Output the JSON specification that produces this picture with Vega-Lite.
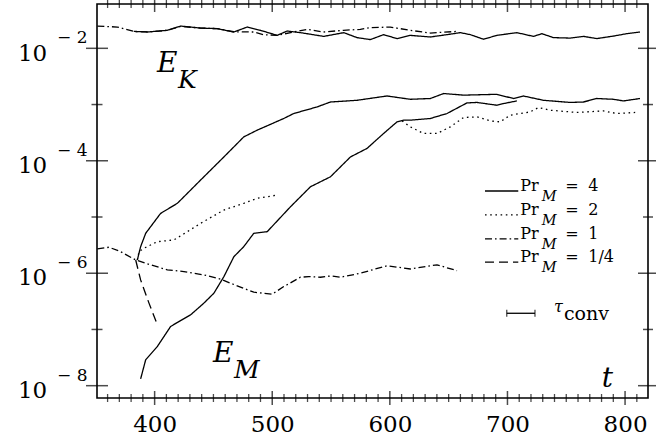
{
  "$schema": "https://vega.github.io/schema/vega-lite/v6.json",
  "width": 551,
  "height": 394,
  "autosize": {"type": "none"},
  "padding": {"left": 97, "top": 4, "right": 8, "bottom": 42},
  "background": "white",
  "config": {
    "view": {"stroke": "black", "strokeWidth": 1.6},
    "font": "DejaVu Serif",
    "axis": {"grid": false, "domain": false, "ticks": false, "title": null, "labelColor": "black", "labelFont": "DejaVu Serif", "labelFlush": false, "labelOverlap": false, "labelBound": false}
  },
  "datasets": {
    "curves": [
      {"run": "EK_4", "pr": "4", "t": 382.2, "E": 2.00e-2},
      {"run": "EK_4", "pr": "4", "t": 393.8, "E": 1.95e-2},
      {"run": "EK_4", "pr": "4", "t": 410.8, "E": 2.09e-2},
      {"run": "EK_4", "pr": "4", "t": 422.1, "E": 2.49e-2},
      {"run": "EK_4", "pr": "4", "t": 439.1, "E": 2.29e-2},
      {"run": "EK_4", "pr": "4", "t": 453.2, "E": 2.24e-2},
      {"run": "EK_4", "pr": "4", "t": 467.3, "E": 1.95e-2},
      {"run": "EK_4", "pr": "4", "t": 478.7, "E": 2.39e-2},
      {"run": "EK_4", "pr": "4", "t": 490.0, "E": 2.09e-2},
      {"run": "EK_4", "pr": "4", "t": 504.2, "E": 1.70e-2},
      {"run": "EK_4", "pr": "4", "t": 512.7, "E": 2.03e-2},
      {"run": "EK_4", "pr": "4", "t": 524.0, "E": 1.90e-2},
      {"run": "EK_4", "pr": "4", "t": 543.8, "E": 1.63e-2},
      {"run": "EK_4", "pr": "4", "t": 560.8, "E": 1.90e-2},
      {"run": "EK_4", "pr": "4", "t": 572.1, "E": 1.55e-2},
      {"run": "EK_4", "pr": "4", "t": 583.4, "E": 1.43e-2},
      {"run": "EK_4", "pr": "4", "t": 594.7, "E": 1.75e-2},
      {"run": "EK_4", "pr": "4", "t": 606.1, "E": 1.49e-2},
      {"run": "EK_4", "pr": "4", "t": 617.4, "E": 1.70e-2},
      {"run": "EK_4", "pr": "4", "t": 634.4, "E": 1.59e-2},
      {"run": "EK_4", "pr": "4", "t": 648.6, "E": 1.75e-2},
      {"run": "EK_4", "pr": "4", "t": 659.9, "E": 1.90e-2},
      {"run": "EK_4", "pr": "4", "t": 668.4, "E": 1.75e-2},
      {"run": "EK_4", "pr": "4", "t": 679.7, "E": 1.45e-2},
      {"run": "EK_4", "pr": "4", "t": 691.0, "E": 1.70e-2},
      {"run": "EK_4", "pr": "4", "t": 708.0, "E": 1.90e-2},
      {"run": "EK_4", "pr": "4", "t": 722.1, "E": 1.63e-2},
      {"run": "EK_4", "pr": "4", "t": 729.3, "E": 1.82e-2},
      {"run": "EK_4", "pr": "4", "t": 739.1, "E": 1.55e-2},
      {"run": "EK_4", "pr": "4", "t": 753.3, "E": 1.52e-2},
      {"run": "EK_4", "pr": "4", "t": 764.6, "E": 1.63e-2},
      {"run": "EK_4", "pr": "4", "t": 776.0, "E": 1.49e-2},
      {"run": "EK_4", "pr": "4", "t": 790.1, "E": 1.65e-2},
      {"run": "EK_4", "pr": "4", "t": 801.4, "E": 1.82e-2},
      {"run": "EK_4", "pr": "4", "t": 812.7, "E": 1.95e-2},

      {"run": "EK_1", "pr": "1", "t": 351.3, "E": 2.49e-2},
      {"run": "EK_1", "pr": "1", "t": 368.3, "E": 2.39e-2},
      {"run": "EK_1", "pr": "1", "t": 382.4, "E": 2.00e-2},
      {"run": "EK_1", "pr": "1", "t": 395.0, "E": 1.95e-2},
      {"run": "EK_1", "pr": "1", "t": 410.8, "E": 2.09e-2},
      {"run": "EK_1", "pr": "1", "t": 422.1, "E": 2.45e-2},
      {"run": "EK_1", "pr": "1", "t": 439.1, "E": 2.29e-2},
      {"run": "EK_1", "pr": "1", "t": 453.2, "E": 2.24e-2},
      {"run": "EK_1", "pr": "1", "t": 467.3, "E": 1.97e-2},
      {"run": "EK_1", "pr": "1", "t": 484.1, "E": 1.95e-2},
      {"run": "EK_1", "pr": "1", "t": 492.6, "E": 1.75e-2},
      {"run": "EK_1", "pr": "1", "t": 504.2, "E": 1.70e-2},
      {"run": "EK_1", "pr": "1", "t": 518.0, "E": 1.95e-2},
      {"run": "EK_1", "pr": "1", "t": 529.7, "E": 2.17e-2},
      {"run": "EK_1", "pr": "1", "t": 543.5, "E": 1.95e-2},
      {"run": "EK_1", "pr": "1", "t": 560.5, "E": 2.09e-2},
      {"run": "EK_1", "pr": "1", "t": 574.9, "E": 2.17e-2},
      {"run": "EK_1", "pr": "1", "t": 583.4, "E": 2.33e-2},
      {"run": "EK_1", "pr": "1", "t": 600.4, "E": 2.39e-2},
      {"run": "EK_1", "pr": "1", "t": 617.4, "E": 2.09e-2},
      {"run": "EK_1", "pr": "1", "t": 634.4, "E": 1.87e-2},
      {"run": "EK_1", "pr": "1", "t": 657.1, "E": 2.00e-2},

      {"run": "EM_1", "pr": "1", "t": 351.3, "E": 2.70e-6},
      {"run": "EM_1", "pr": "1", "t": 361.2, "E": 2.90e-6},
      {"run": "EM_1", "pr": "1", "t": 371.1, "E": 2.42e-6},
      {"run": "EM_1", "pr": "1", "t": 383.9, "E": 1.72e-6},
      {"run": "EM_1", "pr": "1", "t": 396.6, "E": 1.41e-6},
      {"run": "EM_1", "pr": "1", "t": 410.8, "E": 1.15e-6},
      {"run": "EM_1", "pr": "1", "t": 424.9, "E": 1.07e-6},
      {"run": "EM_1", "pr": "1", "t": 441.9, "E": 9.33e-7},
      {"run": "EM_1", "pr": "1", "t": 456.1, "E": 7.83e-7},
      {"run": "EM_1", "pr": "1", "t": 470.2, "E": 5.96e-7},
      {"run": "EM_1", "pr": "1", "t": 484.3, "E": 4.60e-7},
      {"run": "EM_1", "pr": "1", "t": 499.9, "E": 4.25e-7},
      {"run": "EM_1", "pr": "1", "t": 509.8, "E": 5.79e-7},
      {"run": "EM_1", "pr": "1", "t": 524.0, "E": 8.49e-7},
      {"run": "EM_1", "pr": "1", "t": 531.0, "E": 8.71e-7},
      {"run": "EM_1", "pr": "1", "t": 541.0, "E": 8.49e-7},
      {"run": "EM_1", "pr": "1", "t": 549.5, "E": 8.95e-7},
      {"run": "EM_1", "pr": "1", "t": 558.0, "E": 8.49e-7},
      {"run": "EM_1", "pr": "1", "t": 574.9, "E": 1.00e-6},
      {"run": "EM_1", "pr": "1", "t": 597.6, "E": 1.36e-6},
      {"run": "EM_1", "pr": "1", "t": 617.4, "E": 1.19e-6},
      {"run": "EM_1", "pr": "1", "t": 640.1, "E": 1.41e-6},
      {"run": "EM_1", "pr": "1", "t": 657.1, "E": 1.11e-6},

      {"run": "EM_14", "pr": "1/4", "t": 383.9, "E": 1.72e-6},
      {"run": "EM_14", "pr": "1/4", "t": 388.1, "E": 7.60e-7},
      {"run": "EM_14", "pr": "1/4", "t": 395.2, "E": 2.94e-7},
      {"run": "EM_14", "pr": "1/4", "t": 402.3, "E": 1.21e-7},

      {"run": "EM_2a", "pr": "2", "t": 385.3, "E": 1.72e-6},
      {"run": "EM_2a", "pr": "2", "t": 386.7, "E": 2.42e-6},
      {"run": "EM_2a", "pr": "2", "t": 390.9, "E": 2.78e-6},
      {"run": "EM_2a", "pr": "2", "t": 402.3, "E": 3.64e-6},
      {"run": "EM_2a", "pr": "2", "t": 416.4, "E": 3.91e-6},
      {"run": "EM_2a", "pr": "2", "t": 427.8, "E": 5.48e-6},
      {"run": "EM_2a", "pr": "2", "t": 439.1, "E": 7.73e-6},
      {"run": "EM_2a", "pr": "2", "t": 458.9, "E": 1.33e-5},
      {"run": "EM_2a", "pr": "2", "t": 475.8, "E": 1.75e-5},
      {"run": "EM_2a", "pr": "2", "t": 487.2, "E": 2.15e-5},
      {"run": "EM_2a", "pr": "2", "t": 504.2, "E": 2.45e-5},

      {"run": "EM_4a", "pr": "4", "t": 385.3, "E": 1.72e-6},
      {"run": "EM_4a", "pr": "4", "t": 388.1, "E": 2.97e-6},
      {"run": "EM_4a", "pr": "4", "t": 392.4, "E": 5.13e-6},
      {"run": "EM_4a", "pr": "4", "t": 405.1, "E": 1.16e-5},
      {"run": "EM_4a", "pr": "4", "t": 419.3, "E": 1.75e-5},
      {"run": "EM_4a", "pr": "4", "t": 430.6, "E": 3.01e-5},
      {"run": "EM_4a", "pr": "4", "t": 439.1, "E": 4.54e-5},
      {"run": "EM_4a", "pr": "4", "t": 458.9, "E": 1.17e-4},
      {"run": "EM_4a", "pr": "4", "t": 475.8, "E": 2.66e-4},
      {"run": "EM_4a", "pr": "4", "t": 487.2, "E": 3.50e-4},
      {"run": "EM_4a", "pr": "4", "t": 509.8, "E": 5.65e-4},
      {"run": "EM_4a", "pr": "4", "t": 518.3, "E": 6.93e-4},
      {"run": "EM_4a", "pr": "4", "t": 538.2, "E": 9.08e-4},
      {"run": "EM_4a", "pr": "4", "t": 549.5, "E": 1.11e-3},
      {"run": "EM_4a", "pr": "4", "t": 572.1, "E": 1.19e-3},
      {"run": "EM_4a", "pr": "4", "t": 597.6, "E": 1.42e-3},
      {"run": "EM_4a", "pr": "4", "t": 617.4, "E": 1.24e-3},
      {"run": "EM_4a", "pr": "4", "t": 634.4, "E": 1.28e-3},
      {"run": "EM_4a", "pr": "4", "t": 645.7, "E": 1.57e-3},
      {"run": "EM_4a", "pr": "4", "t": 662.7, "E": 1.47e-3},
      {"run": "EM_4a", "pr": "4", "t": 691.0, "E": 1.52e-3},
      {"run": "EM_4a", "pr": "4", "t": 705.1, "E": 1.28e-3},
      {"run": "EM_4a", "pr": "4", "t": 713.6, "E": 1.42e-3},
      {"run": "EM_4a", "pr": "4", "t": 730.6, "E": 1.19e-3},
      {"run": "EM_4a", "pr": "4", "t": 753.3, "E": 1.09e-3},
      {"run": "EM_4a", "pr": "4", "t": 764.6, "E": 1.11e-3},
      {"run": "EM_4a", "pr": "4", "t": 776.0, "E": 1.28e-3},
      {"run": "EM_4a", "pr": "4", "t": 790.1, "E": 1.24e-3},
      {"run": "EM_4a", "pr": "4", "t": 798.7, "E": 1.16e-3},
      {"run": "EM_4a", "pr": "4", "t": 812.7, "E": 1.28e-3},

      {"run": "EM_4b", "pr": "4", "t": 388.1, "E": 1.32e-8},
      {"run": "EM_4b", "pr": "4", "t": 392.4, "E": 2.89e-8},
      {"run": "EM_4b", "pr": "4", "t": 402.3, "E": 4.98e-8},
      {"run": "EM_4b", "pr": "4", "t": 413.6, "E": 1.13e-7},
      {"run": "EM_4b", "pr": "4", "t": 419.3, "E": 1.33e-7},
      {"run": "EM_4b", "pr": "4", "t": 430.6, "E": 1.82e-7},
      {"run": "EM_4b", "pr": "4", "t": 441.9, "E": 2.94e-7},
      {"run": "EM_4b", "pr": "4", "t": 450.4, "E": 4.42e-7},
      {"run": "EM_4b", "pr": "4", "t": 458.9, "E": 8.71e-7},
      {"run": "EM_4b", "pr": "4", "t": 467.4, "E": 1.97e-6},
      {"run": "EM_4b", "pr": "4", "t": 475.8, "E": 2.97e-6},
      {"run": "EM_4b", "pr": "4", "t": 484.3, "E": 5.13e-6},
      {"run": "EM_4b", "pr": "4", "t": 495.7, "E": 5.48e-6},
      {"run": "EM_4b", "pr": "4", "t": 515.5, "E": 1.52e-5},
      {"run": "EM_4b", "pr": "4", "t": 521.2, "E": 2.00e-5},
      {"run": "EM_4b", "pr": "4", "t": 532.5, "E": 3.45e-5},
      {"run": "EM_4b", "pr": "4", "t": 549.5, "E": 5.19e-5},
      {"run": "EM_4b", "pr": "4", "t": 566.5, "E": 1.17e-4},
      {"run": "EM_4b", "pr": "4", "t": 580.6, "E": 1.66e-4},
      {"run": "EM_4b", "pr": "4", "t": 594.7, "E": 3.06e-4},
      {"run": "EM_4b", "pr": "4", "t": 606.1, "E": 4.92e-4},
      {"run": "EM_4b", "pr": "4", "t": 611.7, "E": 5.27e-4},
      {"run": "EM_4b", "pr": "4", "t": 617.4, "E": 5.27e-4},
      {"run": "EM_4b", "pr": "4", "t": 634.4, "E": 5.65e-4},
      {"run": "EM_4b", "pr": "4", "t": 648.6, "E": 6.93e-4},
      {"run": "EM_4b", "pr": "4", "t": 665.6, "E": 1.07e-3},
      {"run": "EM_4b", "pr": "4", "t": 674.1, "E": 1.09e-3},
      {"run": "EM_4b", "pr": "4", "t": 691.0, "E": 9.73e-4},
      {"run": "EM_4b", "pr": "4", "t": 696.6, "E": 1.04e-3},
      {"run": "EM_4b", "pr": "4", "t": 708.0, "E": 1.16e-3},

      {"run": "EM_2b", "pr": "2", "t": 610.4, "E": 5.12e-4},
      {"run": "EM_2b", "pr": "2", "t": 617.4, "E": 4.01e-4},
      {"run": "EM_2b", "pr": "2", "t": 628.7, "E": 3.06e-4},
      {"run": "EM_2b", "pr": "2", "t": 640.1, "E": 3.06e-4},
      {"run": "EM_2b", "pr": "2", "t": 651.4, "E": 4.01e-4},
      {"run": "EM_2b", "pr": "2", "t": 662.7, "E": 5.89e-4},
      {"run": "EM_2b", "pr": "2", "t": 674.1, "E": 6.03e-4},
      {"run": "EM_2b", "pr": "2", "t": 685.4, "E": 5.12e-4},
      {"run": "EM_2b", "pr": "2", "t": 693.8, "E": 4.92e-4},
      {"run": "EM_2b", "pr": "2", "t": 702.3, "E": 6.47e-4},
      {"run": "EM_2b", "pr": "2", "t": 719.3, "E": 7.40e-4},
      {"run": "EM_2b", "pr": "2", "t": 726.4, "E": 8.85e-4},
      {"run": "EM_2b", "pr": "2", "t": 736.3, "E": 7.93e-4},
      {"run": "EM_2b", "pr": "2", "t": 759.0, "E": 7.23e-4},
      {"run": "EM_2b", "pr": "2", "t": 781.6, "E": 7.71e-4},
      {"run": "EM_2b", "pr": "2", "t": 793.0, "E": 6.93e-4},
      {"run": "EM_2b", "pr": "2", "t": 808.6, "E": 7.23e-4}
    ],
    "legendRows": [
      {"pr": "4", "t0": 680.9, "t1": 709.2, "E": 2.90e-5},
      {"pr": "2", "t0": 680.9, "t1": 709.2, "E": 1.09e-5},
      {"pr": "1", "t0": 680.9, "t1": 709.2, "E": 4.07e-6},
      {"pr": "1/4", "t0": 680.9, "t1": 709.2, "E": 1.58e-6}
    ],
    "labels": [
      {"name": "EK", "t": 402.0, "E": 3.84e-3, "main": "E", "sub": "K"},
      {"name": "EM", "t": 449.6, "E": 2.67e-8, "main": "E", "sub": "M"},
      {"name": "time", "t": 780.2, "E": 9.59e-9, "main": "t", "sub": ""}
    ],
    "tau": [
      {"t0": 699.4, "t1": 723.4, "E": 1.94e-7}
    ],
    "tMajor": [
      {"t": 400, "Ebot": 6.04e-9, "Etop": 6.14e-2},
      {"t": 500, "Ebot": 6.04e-9, "Etop": 6.14e-2},
      {"t": 600, "Ebot": 6.04e-9, "Etop": 6.14e-2},
      {"t": 700, "Ebot": 6.04e-9, "Etop": 6.14e-2},
      {"t": 800, "Ebot": 6.04e-9, "Etop": 6.14e-2}
    ],
    "tMinor": [
      {"t": 360, "Ebot": 6.04e-9, "Etop": 6.14e-2}, {"t": 370, "Ebot": 6.04e-9, "Etop": 6.14e-2}, {"t": 380, "Ebot": 6.04e-9, "Etop": 6.14e-2}, {"t": 390, "Ebot": 6.04e-9, "Etop": 6.14e-2},
      {"t": 410, "Ebot": 6.04e-9, "Etop": 6.14e-2}, {"t": 420, "Ebot": 6.04e-9, "Etop": 6.14e-2}, {"t": 430, "Ebot": 6.04e-9, "Etop": 6.14e-2}, {"t": 440, "Ebot": 6.04e-9, "Etop": 6.14e-2},
      {"t": 450, "Ebot": 6.04e-9, "Etop": 6.14e-2}, {"t": 460, "Ebot": 6.04e-9, "Etop": 6.14e-2}, {"t": 470, "Ebot": 6.04e-9, "Etop": 6.14e-2}, {"t": 480, "Ebot": 6.04e-9, "Etop": 6.14e-2},
      {"t": 490, "Ebot": 6.04e-9, "Etop": 6.14e-2}, {"t": 510, "Ebot": 6.04e-9, "Etop": 6.14e-2}, {"t": 520, "Ebot": 6.04e-9, "Etop": 6.14e-2}, {"t": 530, "Ebot": 6.04e-9, "Etop": 6.14e-2},
      {"t": 540, "Ebot": 6.04e-9, "Etop": 6.14e-2}, {"t": 550, "Ebot": 6.04e-9, "Etop": 6.14e-2}, {"t": 560, "Ebot": 6.04e-9, "Etop": 6.14e-2}, {"t": 570, "Ebot": 6.04e-9, "Etop": 6.14e-2},
      {"t": 580, "Ebot": 6.04e-9, "Etop": 6.14e-2}, {"t": 590, "Ebot": 6.04e-9, "Etop": 6.14e-2}, {"t": 610, "Ebot": 6.04e-9, "Etop": 6.14e-2}, {"t": 620, "Ebot": 6.04e-9, "Etop": 6.14e-2},
      {"t": 630, "Ebot": 6.04e-9, "Etop": 6.14e-2}, {"t": 640, "Ebot": 6.04e-9, "Etop": 6.14e-2}, {"t": 650, "Ebot": 6.04e-9, "Etop": 6.14e-2}, {"t": 660, "Ebot": 6.04e-9, "Etop": 6.14e-2},
      {"t": 670, "Ebot": 6.04e-9, "Etop": 6.14e-2}, {"t": 680, "Ebot": 6.04e-9, "Etop": 6.14e-2}, {"t": 690, "Ebot": 6.04e-9, "Etop": 6.14e-2}, {"t": 710, "Ebot": 6.04e-9, "Etop": 6.14e-2},
      {"t": 720, "Ebot": 6.04e-9, "Etop": 6.14e-2}, {"t": 730, "Ebot": 6.04e-9, "Etop": 6.14e-2}, {"t": 740, "Ebot": 6.04e-9, "Etop": 6.14e-2}, {"t": 750, "Ebot": 6.04e-9, "Etop": 6.14e-2},
      {"t": 760, "Ebot": 6.04e-9, "Etop": 6.14e-2}, {"t": 770, "Ebot": 6.04e-9, "Etop": 6.14e-2}, {"t": 780, "Ebot": 6.04e-9, "Etop": 6.14e-2}, {"t": 790, "Ebot": 6.04e-9, "Etop": 6.14e-2},
      {"t": 810, "Ebot": 6.04e-9, "Etop": 6.14e-2}
    ],
    "eEven": [
      {"E": 1e-8, "tL": 351, "tR": 819.5}, {"E": 1e-6, "tL": 351, "tR": 819.5}, {"E": 1e-4, "tL": 351, "tR": 819.5}, {"E": 1e-2, "tL": 351, "tR": 819.5}
    ],
    "eOdd": [
      {"E": 1e-7, "tL": 351, "tR": 819.5}, {"E": 1e-5, "tL": 351, "tR": 819.5}, {"E": 1e-3, "tL": 351, "tR": 819.5}
    ]
  },
  "resolve": {"axis": {"x": "independent", "y": "independent"}},
  "layer": [
    {
      "data": {"name": "curves"},
      "mark": {"type": "line", "color": "black", "strokeWidth": 1.3},
      "encoding": {
        "x": {
          "field": "t", "type": "quantitative",
          "scale": {"domain": [351, 819.5], "nice": false, "zero": false},
          "axis": {"orient": "bottom", "values": [400, 500, 600, 700, 800], "labelPadding": 33.7, "labelBaseline": "alphabetic", "labelFontSize": 23}
        },
        "y": {
          "field": "E", "type": "quantitative",
          "scale": {"type": "log", "domain": [6.04e-9, 6.14e-2], "nice": false},
          "axis": {"orient": "left", "values": [1e-8, 1e-6, 1e-4, 1e-2], "labelExpr": "'10'", "labelPadding": 50.3, "labelOffset": 11.7, "labelAlign": "right", "labelBaseline": "alphabetic", "labelFontSize": 23}
        },
        "strokeDash": {
          "field": "pr", "type": "nominal",
          "scale": {"domain": ["4", "2", "1", "1/4"], "range": [[1, 0], [1.6, 3.6], [7, 3, 1.6, 3], [9, 5]]},
          "legend": null
        },
        "detail": {"field": "run"}
      }
    },
    {
      "data": {"name": "legendRows"},
      "mark": {"type": "rule", "color": "black", "strokeWidth": 1.3},
      "encoding": {
        "x": {"field": "t0", "type": "quantitative", "axis": null},
        "x2": {"field": "t1"},
        "y": {"field": "E", "type": "quantitative", "axis": null},
        "strokeDash": {"field": "pr", "type": "nominal", "legend": null}
      }
    },
    {
      "data": {"name": "labels"},
      "mark": {"type": "text", "fontStyle": "italic", "fontSize": 28, "align": "left", "baseline": "alphabetic", "color": "black"},
      "encoding": {
        "x": {"field": "t", "type": "quantitative", "axis": null},
        "y": {
          "field": "E", "type": "quantitative",
          "axis": {"orient": "left", "values": [1e-8, 1e-6, 1e-4, 1e-2], "labelExpr": "'\u2212 ' + abs(round(log(datum.value)/LN10))", "labelPadding": 10, "labelOffset": -5.6, "labelAlign": "right", "labelBaseline": "alphabetic", "labelFontSize": 17}
        },
        "text": {"field": "main"}
      }
    },
    {
      "data": {"name": "labels"},
      "mark": {"type": "text", "fontStyle": "italic", "fontSize": 25, "align": "left", "baseline": "alphabetic", "color": "black", "dx": 21, "dy": 16},
      "encoding": {
        "x": {"field": "t", "type": "quantitative", "axis": null},
        "y": {"field": "E", "type": "quantitative", "axis": null},
        "text": {"field": "sub"}
      }
    },
    {
      "data": {"name": "tMajor"},
      "mark": {"type": "tick", "orient": "vertical", "color": "black", "size": 14, "thickness": 1.5},
      "encoding": {
        "x": {"field": "t", "type": "quantitative", "axis": null},
        "y": {"field": "Ebot", "type": "quantitative", "axis": null}
      }
    },
    {
      "data": {"name": "tMinor"},
      "mark": {"type": "tick", "orient": "vertical", "color": "black", "size": 8, "thickness": 1.3},
      "encoding": {
        "x": {"field": "t", "type": "quantitative", "axis": null},
        "y": {"field": "Ebot", "type": "quantitative", "axis": null}
      }
    },
    {
      "data": {"name": "tMajor"},
      "mark": {"type": "tick", "orient": "vertical", "color": "black", "size": 16, "thickness": 1.5},
      "encoding": {
        "x": {"field": "t", "type": "quantitative", "axis": null},
        "y": {"field": "Etop", "type": "quantitative", "axis": null}
      }
    },
    {
      "data": {"name": "tMinor"},
      "mark": {"type": "tick", "orient": "vertical", "color": "black", "size": 8, "thickness": 1.3},
      "encoding": {
        "x": {"field": "t", "type": "quantitative", "axis": null},
        "y": {"field": "Etop", "type": "quantitative", "axis": null}
      }
    },
    {
      "data": {"name": "eEven"},
      "mark": {"type": "tick", "orient": "horizontal", "color": "black", "size": 22, "thickness": 1.5},
      "encoding": {
        "x": {"field": "tL", "type": "quantitative", "axis": null},
        "y": {"field": "E", "type": "quantitative", "axis": null}
      }
    },
    {
      "data": {"name": "eOdd"},
      "mark": {"type": "tick", "orient": "horizontal", "color": "black", "size": 11, "thickness": 1.5},
      "encoding": {
        "x": {"field": "tL", "type": "quantitative", "axis": null},
        "y": {"field": "E", "type": "quantitative", "axis": null}
      }
    },
    {
      "data": {"name": "eEven"},
      "mark": {"type": "tick", "orient": "horizontal", "color": "black", "size": 20, "thickness": 1.5},
      "encoding": {
        "x": {"field": "tR", "type": "quantitative", "axis": null},
        "y": {"field": "E", "type": "quantitative", "axis": null}
      }
    },
    {
      "data": {"name": "eOdd"},
      "mark": {"type": "tick", "orient": "horizontal", "color": "black", "size": 10, "thickness": 1.5},
      "encoding": {
        "x": {"field": "tR", "type": "quantitative", "axis": null},
        "y": {"field": "E", "type": "quantitative", "axis": null}
      }
    },
    {
      "data": {"name": "legendRows"},
      "mark": {"type": "text", "text": "Pr", "fontSize": 16, "align": "left", "baseline": "alphabetic", "color": "black", "dx": 2},
      "encoding": {
        "x": {"field": "t1", "type": "quantitative", "axis": null},
        "y": {"field": "E", "type": "quantitative", "axis": null}
      }
    },
    {
      "data": {"name": "legendRows"},
      "mark": {"type": "text", "text": "M", "fontStyle": "italic", "fontSize": 14.5, "align": "left", "baseline": "alphabetic", "color": "black", "dx": 23.5, "dy": 10},
      "encoding": {
        "x": {"field": "t1", "type": "quantitative", "axis": null},
        "y": {"field": "E", "type": "quantitative", "axis": null}
      }
    },
    {
      "data": {"name": "legendRows"},
      "mark": {"type": "text", "text": "=", "fontSize": 16, "align": "left", "baseline": "alphabetic", "color": "black", "dx": 47},
      "encoding": {
        "x": {"field": "t1", "type": "quantitative", "axis": null},
        "y": {"field": "E", "type": "quantitative", "axis": null}
      }
    },
    {
      "data": {"name": "legendRows"},
      "mark": {"type": "text", "fontSize": 16, "align": "left", "baseline": "alphabetic", "color": "black", "dx": 70},
      "encoding": {
        "x": {"field": "t1", "type": "quantitative", "axis": null},
        "y": {"field": "E", "type": "quantitative", "axis": null},
        "text": {"field": "pr"}
      }
    },
    {
      "data": {"name": "tau"},
      "mark": {"type": "rule", "color": "black", "strokeWidth": 1.3},
      "encoding": {
        "x": {"field": "t0", "type": "quantitative", "axis": null},
        "x2": {"field": "t1"},
        "y": {"field": "E", "type": "quantitative", "axis": null}
      }
    },
    {
      "data": {"name": "tau"},
      "mark": {"type": "tick", "orient": "vertical", "color": "black", "size": 7, "thickness": 1.3},
      "encoding": {
        "x": {"field": "t0", "type": "quantitative", "axis": null},
        "y": {"field": "E", "type": "quantitative", "axis": null}
      }
    },
    {
      "data": {"name": "tau"},
      "mark": {"type": "tick", "orient": "vertical", "color": "black", "size": 7, "thickness": 1.3},
      "encoding": {
        "x": {"field": "t1", "type": "quantitative", "axis": null},
        "y": {"field": "E", "type": "quantitative", "axis": null}
      }
    },
    {
      "data": {"name": "tau"},
      "mark": {"type": "text", "text": "\u03c4", "fontStyle": "italic", "fontSize": 16, "align": "left", "baseline": "alphabetic", "color": "black", "dx": 19, "dy": -1.6},
      "encoding": {
        "x": {"field": "t1", "type": "quantitative", "axis": null},
        "y": {"field": "E", "type": "quantitative", "axis": null}
      }
    },
    {
      "data": {"name": "tau"},
      "mark": {"type": "text", "text": "conv", "fontSize": 19, "align": "left", "baseline": "alphabetic", "color": "black", "dx": 29, "dy": 6.7},
      "encoding": {
        "x": {"field": "t1", "type": "quantitative", "axis": null},
        "y": {"field": "E", "type": "quantitative", "axis": null}
      }
    }
  ]
}
